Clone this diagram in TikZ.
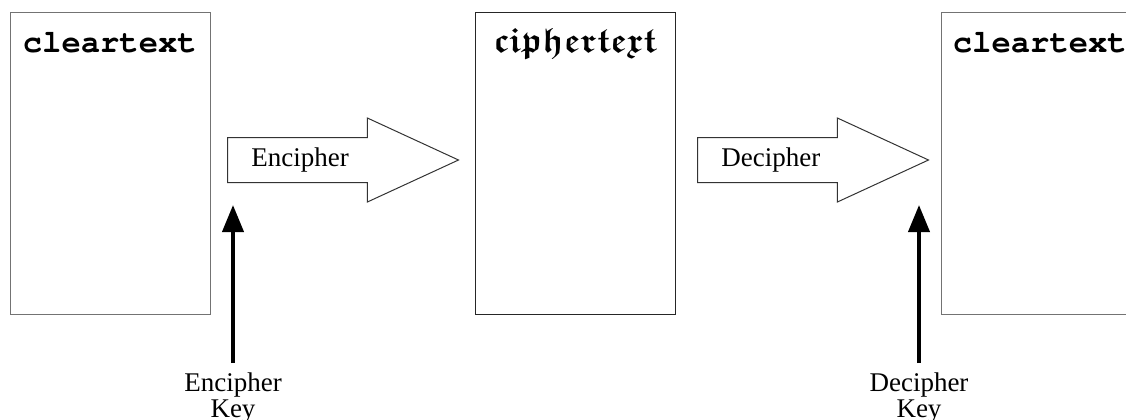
\documentclass[tikz,border=0pt]{standalone}
\usepackage{fontspec}
\setmainfont{Liberation Serif}
\setmonofont{Liberation Mono}
\usepackage{amsfonts}
\usetikzlibrary{shapes.arrows, arrows.meta, positioning}

\tikzset{
  textbox/.style={draw=black!55, line width=0.5pt, minimum width=100pt, minimum height=151pt, inner sep=0pt},
  monotitle/.style={font=\fontsize{16.1}{18}\usefont{OT1}{pcr}{b}{n}, inner sep=0pt, anchor=base west},
  gothtitle/.style={font=\fontsize{17.5}{20}\usefont{U}{euf}{b}{n}, inner sep=0pt, anchor=base},
  blockarrow/.style={single arrow, draw=black!80, line width=0.5pt, minimum height=115.5pt, inner xsep=0pt, inner ysep=11pt, single arrow head extend=9.75pt, single arrow tip angle=49.5, anchor=tail},
  steplabel/.style={font=\fontsize{13.5}{16}\selectfont, inner sep=0pt, anchor=west},
  keylabel/.style={font=\fontsize{13.5}{13}\selectfont, align=center, inner sep=0pt, anchor=north},
  keyarrow/.style={line width=2pt, -{Triangle[width=10.5pt, length=13.5pt]}, shorten <=4.5pt}
}

\begin{document}
\begin{tikzpicture}[x=0.5pt, y=-0.5pt]
    \useasboundingbox (0,0) rectangle (1126,419);

    % Text boxes (the last one runs off the right edge)
    \node[textbox] (plain) at (110,163) {};
    \node[textbox, draw=black!85] (cipher) at (575,163) {};
    \node[textbox] (replain) at (1041,163) {};

    % Box titles
    \node[monotitle] (plaintitle) at ([xshift=6.5pt, yshift=-20.5pt]plain.north west) {cleartext};
    \node[gothtitle] (ciphertitle) at ([yshift=-20.5pt]cipher.north) {ciphertext};
    \node[monotitle] (replaintitle) at ([xshift=6pt, yshift=-20.5pt]replain.north west) {cleartext};

    % Hollow block arrows
    \node[blockarrow] (encarrow) at (227,160) {};
    \node[blockarrow] (decarrow) at (697,160) {};
    \node[steplabel] (enclabel) at ([xshift=12pt]encarrow.tail) {Encipher};
    \node[steplabel] (declabel) at ([xshift=12pt]decarrow.tail) {Decipher};

    % Keys
    \coordinate (enckeytip) at (233,205);
    \coordinate (deckeytip) at (919,205);
    \node[keylabel] (enckey) at (233,372) {Encipher\\Key};
    \node[keylabel] (deckey) at (919,372) {Decipher\\Key};
    \draw[keyarrow] (enckey) -- (enckeytip);
    \draw[keyarrow] (deckey) -- (deckeytip);
\end{tikzpicture}
\end{document}
